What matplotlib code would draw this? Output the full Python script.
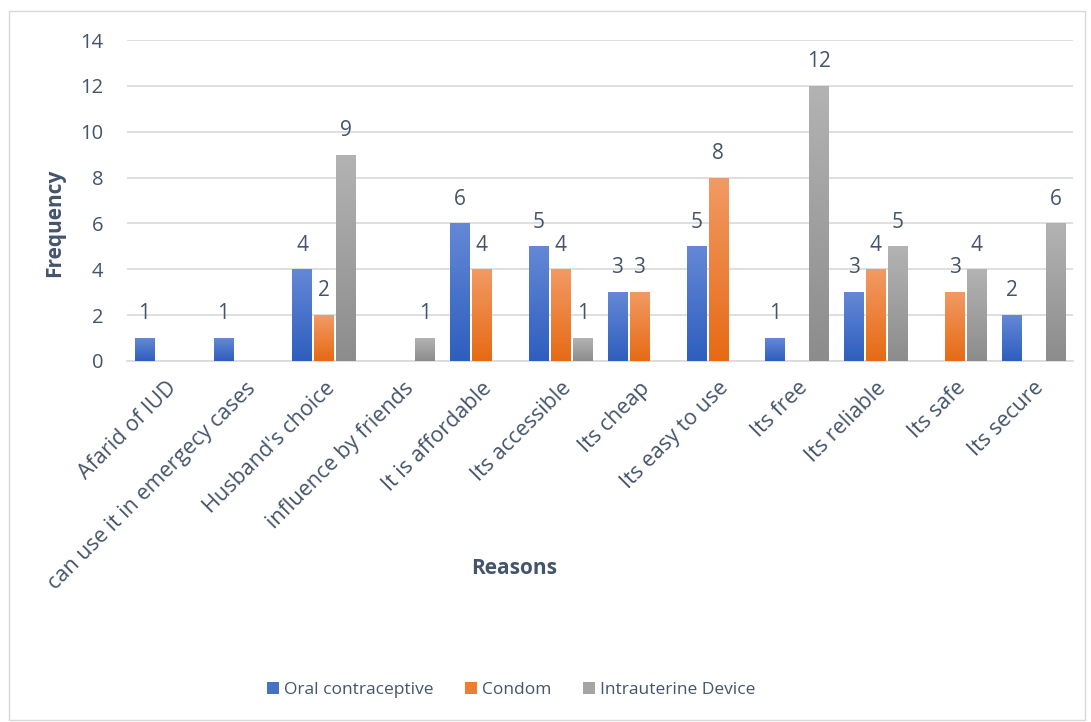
import matplotlib
matplotlib.use("Agg")
import matplotlib.pyplot as plt
import numpy as np
from matplotlib.colors import LinearSegmentedColormap
from matplotlib.patches import Rectangle

categories = ["Afarid of IUD", "can use it in emergecy cases", "Husband's choice",
              "influence by friends", "It is affordable", "Its accessible", "Its cheap",
              "Its easy to use", "Its free", "Its reliable", "Its safe", "Its secure"]
series_names = ["Oral contraceptive", "Condom", "Intrauterine Device"]
oral = [1, 1, 4, 0, 6, 5, 3, 5, 1, 3, 0, 2]
condom = [0, 0, 2, 0, 4, 4, 3, 8, 0, 4, 3, 0]
iud = [0, 0, 9, 1, 0, 1, 0, 0, 12, 5, 4, 6]
yticks = [0, 2, 4, 6, 8, 10, 12, 14]

plt.rcParams['font.family'] = ['Open Sans', 'DejaVu Sans']
txt = '#44546A'
grid_c = '#D9D9D9'

grads = [("#6488D6", "#2E5EBE"), ("#F29A64", "#E66A14"), ("#B3B3B3", "#8C8C8C")]
solid = ["#4472C4", "#ED7D31", "#A5A5A5"]

fig = plt.figure(figsize=(10.91, 7.22), dpi=100)
fig.patches.append(Rectangle((9/1091, 2/722), 1076/1091, 709/722, transform=fig.transFigure,
                             fill=False, edgecolor=grid_c, linewidth=1))
ax = fig.add_axes([127/1091, 1-361/722, 946/1091, 321/722])

x = np.arange(len(categories))
w = 0.245
step = 0.28
ax.set_xlim(-0.5, len(categories)-0.5)
ax.set_ylim(0, 14)

for i, (vals, name) in enumerate(zip([oral, condom, iud], series_names)):
    pos = x + (i-1)*step
    bars = ax.bar(pos, vals, width=w, color=solid[i], label=name, zorder=3)
    cmap = LinearSegmentedColormap.from_list("g%d" % i, [grads[i][1], grads[i][0]])
    for b, v, p in zip(bars, vals, pos):
        if v <= 0:
            b.set_visible(False)
            continue
        grad = np.linspace(0, 1, 256).reshape(-1, 1)
        im = ax.imshow(grad, cmap=cmap, aspect='auto', origin='lower',
                       extent=(p - w/2, p + w/2, 0, v), zorder=4)
        im.set_clip_path(b)
        ax.text(p, v + 0.6, str(v), ha='center', va='bottom', fontsize=15, color=txt, zorder=5)

ax.set_xlim(-0.5, len(categories)-0.5)
ax.set_ylim(0, 14)
ax.set_yticks(yticks)
ax.set_yticklabels([str(t) for t in yticks], fontsize=14.5, color=txt)
ax.set_xticks(x)
ax.set_xticklabels(categories, rotation=45, ha='right', rotation_mode='anchor', fontsize=15.5, color=txt)
ax.tick_params(axis='both', length=0)
ax.tick_params(axis='y', pad=17)
ax.tick_params(axis='x', pad=12)
ax.grid(axis='y', color=grid_c, linewidth=1.2, zorder=0)
for s in ['top', 'right', 'left']:
    ax.spines[s].set_visible(False)
ax.spines['bottom'].set_color(grid_c)
ax.spines['bottom'].set_linewidth(1.2)

fig.text(55/1091, 1-223/722, "Frequency", ha='center', va='center', rotation=90, fontsize=15,
         fontweight='bold', color=txt)
fig.text(514/1091, 1-568/722, "Reasons", ha='center', va='center', fontsize=15,
         fontweight='bold', color=txt)

handles = [Rectangle((0, 0), 1, 1, facecolor=c) for c in solid]
fig.legend(handles, series_names, loc='center', bbox_to_anchor=(511/1091, 1-690/722),
           ncol=3, frameon=False, fontsize=12.5, labelcolor=txt, handlelength=0.7,
           handleheight=0.7, handletextpad=0.3, columnspacing=1.8)

fig.savefig("out.png", dpi=100)
